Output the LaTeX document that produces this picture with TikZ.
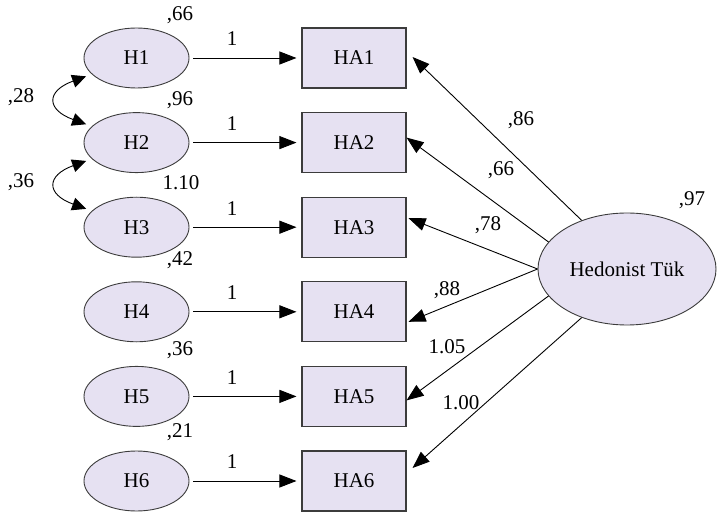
\documentclass[tikz,border=0pt]{standalone}
\usepackage{fontspec}
\setmainfont{Liberation Serif}
\usetikzlibrary{arrows.meta,shapes.geometric,positioning}

\definecolor{lavender}{RGB}{230,225,242}
\definecolor{edgegray}{RGB}{60,60,60}

\begin{document}
\begin{tikzpicture}[x=1pt,y=1pt,
    font=\fontsize{21}{25}\selectfont,
    item/.style={ellipse, draw=edgegray, fill=lavender, line width=0.9pt,
        minimum width=105pt, minimum height=60pt, inner sep=0pt},
    indicator/.style={rectangle, draw=edgegray, fill=lavender, line width=1.1pt,
        minimum width=104pt, minimum height=60pt, inner sep=0pt},
    factor/.style={ellipse, draw=edgegray, fill=lavender, line width=0.9pt,
        minimum width=178pt, minimum height=112pt, inner sep=0pt},
    estimate/.style={inner sep=0pt},
    loading/.style={-{Triangle[length=17pt,width=13pt]}, line width=0.9pt},
    covar/.style={{Triangle[length=14pt,width=13pt]}-{Triangle[length=14pt,width=13pt]},
        line width=0.9pt, shorten <=6pt, shorten >=6pt}]

    \useasboundingbox (0,0) rectangle (717,517);

    % Draw items and indicators.
    \foreach \i in {1,...,6} {
        \pgfmathsetmacro{\ry}{459-84.6*(\i-1)}
        \node[item] (h\i) at (136.5,\ry) {H\i};
        \node[indicator] (ha\i) at (354,\ry) {HA\i};
        \draw[loading, shorten <=4pt, shorten >=5pt] (h\i) -- (ha\i);
        \node[estimate] (one\i) at (232,\ry+19) {1};
    }

    % Draw the factor.
    \node[factor] (hedo) at (627,248) {Hedonist Tük};

    % Loadings from the factor.
    \foreach \i/\a/\dx/\dy in {1/133/6/1, 2/161/0/5, 3/180/2/9,
                               4/180/2/-10, 5/199/0/-4, 6/227/6/13} {
        \coordinate (tip\i) at ([xshift=\dx pt, yshift=\dy pt]ha\i.east);
        \draw[loading] (hedo.\a) -- (tip\i);
    }

    % Covariances.
    \draw[covar] (h1.200) to[out=200, in=160, looseness=2.4] (h2.160);
    \draw[covar] (h2.200) to[out=200, in=160, looseness=2.4] (h3.160);

    % Estimates.
    \node[estimate] (var1) at (180,502) {,66};
    \node[estimate] (var2) at (180,417) {,96};
    \node[estimate] (var3) at (181,334) {1.10};
    \node[estimate] (var4) at (180,257) {,42};
    \node[estimate] (var5) at (180,167) {,36};
    \node[estimate] (var6) at (180,85) {,21};
    \node[estimate] (cov12) at (21,420) {,28};
    \node[estimate] (cov23) at (21,335) {,36};
    \node[estimate] (varh) at (692,317) {,97};
    \node[estimate] (load1) at (521,397) {,86};
    \node[estimate] (load2) at (501,347) {,66};
    \node[estimate] (load3) at (488,292) {,78};
    \node[estimate] (load4) at (447,227) {,88};
    \node[estimate] (load5) at (447,170) {1.05};
    \node[estimate] (load6) at (461,114) {1.00};
\end{tikzpicture}
\end{document}
